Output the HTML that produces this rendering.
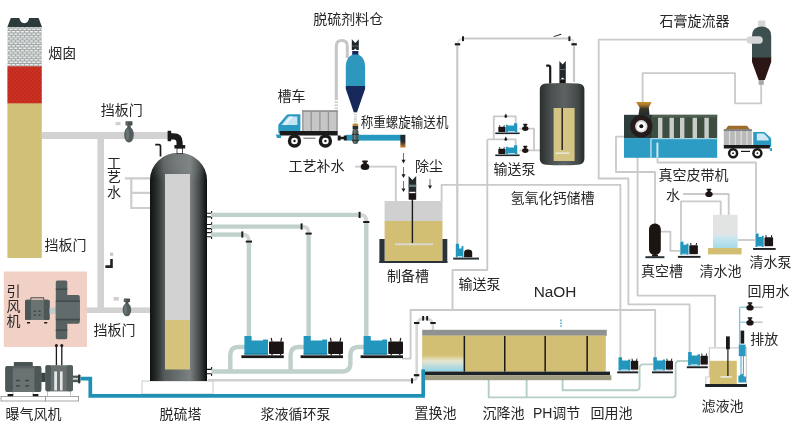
<!DOCTYPE html>
<html lang="zh">
<head>
<meta charset="utf-8">
<title>脱硫工艺流程图</title>
<style>
html,body{margin:0;padding:0;background:#fff;}
body{width:800px;height:426px;overflow:hidden;}
svg{display:block;will-change:transform;}
text{font-family:"Liberation Sans","Noto Sans CJK SC",sans-serif;font-size:14px;fill:#262626;}
.ln{fill:none;stroke:#cacaca;stroke-width:1.85;stroke-linejoin:round;}
.gl{fill:none;stroke:#b4cec8;stroke-width:1.9;}
.gp{fill:none;stroke:#c0d0cb;stroke-width:4.4;}
.wp{fill:none;stroke:#d0d0d0;stroke-width:2.6;}
.bp{fill:none;stroke:#1f90b6;stroke-width:3.7;}
.dk{fill:#1a1a1a;}
.bl{fill:#1f93ba;}
</style>
</head>
<body>
<svg width="800" height="426" viewBox="0 0 800 426">
<defs>
<pattern id="brick" width="4.5" height="4.7" patternUnits="userSpaceOnUse">
<rect width="4.5" height="4.7" fill="#979e9d"/>
<rect x="0.5" y="0.45" width="3.4" height="1.45" fill="#f2f3f3"/>
<rect x="2.75" y="2.8" width="3.4" height="1.45" fill="#f2f3f3"/>
<rect x="-1.75" y="2.8" width="3.4" height="1.45" fill="#f2f3f3"/>
</pattern>
<pattern id="rbrick" width="4" height="4" patternUnits="userSpaceOnUse">
<rect width="4" height="4" fill="#c52a1d"/>
<rect x="0.5" y="0.5" width="1.2" height="0.9" fill="#cf4a3a"/>
<rect x="2.5" y="2.5" width="1.2" height="0.9" fill="#cf4a3a"/>
</pattern>
<linearGradient id="tower" x1="0" x2="1" y1="0" y2="0">
<stop offset="0" stop-color="#101212"/>
<stop offset="0.12" stop-color="#2a2e2e"/>
<stop offset="0.25" stop-color="#555a5a"/>
<stop offset="0.7" stop-color="#7b8080"/>
<stop offset="0.85" stop-color="#4a4f4f"/>
<stop offset="1" stop-color="#0c0e0e"/>
</linearGradient>
<radialGradient id="domeg" cx="0.5" cy="0.25" r="0.6"><stop offset="0" stop-color="#8a9090" stop-opacity="0.45"/><stop offset="1" stop-color="#8a9090" stop-opacity="0"/></radialGradient>
<linearGradient id="tank" x1="0" x2="1" y1="0" y2="0">
<stop offset="0" stop-color="#2a2e2e"/>
<stop offset="0.25" stop-color="#4a4f4f"/>
<stop offset="0.55" stop-color="#5d6262"/>
<stop offset="0.85" stop-color="#444949"/>
<stop offset="1" stop-color="#262a2a"/>
</linearGradient>
<linearGradient id="water" x1="0" x2="0" y1="0" y2="1">
<stop offset="0" stop-color="#f3f8f8"/>
<stop offset="1" stop-color="#8fd0e3"/>
</linearGradient>
<linearGradient id="water2" x1="0" x2="0" y1="0" y2="1">
<stop offset="0" stop-color="#e3e3e3"/>
<stop offset="0.6" stop-color="#e1e4e4"/>
<stop offset="0.68" stop-color="#c9e7ef"/>
<stop offset="1" stop-color="#a6d9e8"/>
</linearGradient>
<g id="valve">
<ellipse cx="0" cy="0.8" rx="4.3" ry="3.3" fill="#1c1413"/>
<rect x="-1.7" y="-4.4" width="3.4" height="2.8" fill="#1c1413"/>
<rect x="-2.8" y="-5.6" width="5.6" height="1.8" rx="0.5" fill="#1c1413"/>
</g>
<g id="damper">
<rect x="-3.5" y="-13.6" width="7" height="4.2" rx="0.6" fill="#4a5252"/>
<rect x="-2.6" y="-13" width="1.1" height="3.4" fill="#6d7777"/>
<rect x="-1.7" y="-9.6" width="3.4" height="3.4" fill="#4a5252"/>
<ellipse cx="0" cy="0" rx="4.8" ry="7.8" fill="#535d5d"/>
<ellipse cx="-1.5" cy="-0.4" rx="1.6" ry="5.6" fill="#6a7474"/>
</g>
<g id="bigpump">
<rect x="-3" y="19.3" width="42.4" height="2.8" fill="#1a1a1a"/>
<path d="M0 0.6 Q0 0 0.6 0 H6.6 Q7.2 0 7.2 0.8 V4.5 H18.6 V3.9 Q18.6 3.4 19.2 3.4 H23 Q23.6 3.4 23.6 4 V18.6 H0 Z" fill="#2296bd"/>
<rect x="0" y="17.2" width="23.6" height="1.4" fill="#1a7fa2"/>
<rect x="24.6" y="5.4" width="14.8" height="12.6" rx="1" fill="#1b1414"/>
<path d="M27.6 5.6 L26.8 1.8 M36.4 5.6 L37.2 1.8" stroke="#1b1414" stroke-width="1.1"/>
<rect x="27" y="18" width="1.2" height="1.4" fill="#1b1414"/><rect x="35.6" y="18" width="1.2" height="1.4" fill="#1b1414"/>
</g>
<g id="smpump">
<rect x="-1.3" y="14.2" width="21" height="1.9" fill="#1d2226"/>
<path d="M0 0.4 Q0 0 0.4 0 H3.2 Q3.6 0 3.6 0.5 V3.4 H9.4 V2.7 Q9.4 2.2 9.9 2.2 H11.4 Q11.9 2.2 11.9 2.7 V13.3 H0 Z" fill="#2296bd"/>
<rect x="2.6" y="12.3" width="7" height="1" fill="#d6eef5"/>
<rect x="12.4" y="3.6" width="7.3" height="9" rx="0.8" fill="#1d1515"/>
<path d="M14 3.8 L13.5 1.4 M18 3.8 L18.5 1.4" stroke="#1d1515" stroke-width="0.9" fill="none"/>
<rect x="13.4" y="12.6" width="5.4" height="0.9" fill="#d6d6d6"/>
</g>
<g id="smpumpL">
<rect x="-3" y="9.3" width="24.3" height="1.6" fill="#1d2226"/>
<rect x="0" y="3.5" width="7.2" height="5.4" rx="0.8" fill="#1d1515"/>
<path d="M1.6 3.6 L1.2 2 M5.6 3.6 L6 2" stroke="#1d1515" stroke-width="0.9" fill="none"/>
<path d="M7.6 2 Q7.6 1.6 8 1.6 H9.3 Q9.7 1.6 9.7 2 V2.4 H15.7 V0.4 Q15.7 0 16.1 0 H18.6 Q19 0 19 0.4 V9.1 H7.6 Z" fill="#2296bd"/>
<rect x="9.6" y="8" width="7" height="0.9" fill="#d6eef5"/>
</g>
<g id="smpump2">
<rect x="-2.4" y="14.5" width="22.6" height="1.9" fill="#1d2226"/>
<path d="M0 0.4 Q0 0 0.4 0 H2.8 Q3.2 0 3.2 0.5 V3.4 H6.2 V2.7 Q6.2 2.2 6.7 2.2 H7.7 Q8.2 2.2 8.2 2.7 V13.4 H0 Z" fill="#2296bd"/>
<rect x="1.6" y="12.4" width="5" height="0.9" fill="#d6eef5"/>
<rect x="9" y="3.8" width="8.6" height="9" rx="0.8" fill="#1d1515"/>
<path d="M10.8 4 L10.3 1.6 M15.8 4 L16.3 1.6" stroke="#1d1515" stroke-width="1" fill="none"/>
<rect x="10" y="12.8" width="6.6" height="0.9" fill="#d6d6d6"/>
</g>
<g id="arrow">
<path d="M0 0 L0 5.5" stroke="#222" stroke-width="0.8" fill="none"/>
<path d="M-1.6 4.2 L0 7.4 L1.6 4.2 Z" fill="#222"/>
</g>
</defs>

<!-- ===== grey thin lines (piping) ===== -->
<g id="lines">
<!-- L1 process make-up water -->
<path class="ln" d="M355 166.6 H395.8 V201"/>
<!-- L2 prep tank -> pump A -->
<path class="ln" d="M441.6 201 V184.8 H620.4 V358"/>
<!-- L3 transfer pump -> Ca(OH)2 tank -->
<path d="M457.3 246 V45.5 M464 38.5 H568.6 M574 45.5 V82" fill="none" stroke="#c9c9c9" stroke-width="2.2"/>
<path d="M457.3 45.5 Q457.3 38.5 464 38.5 M568.6 38.5 Q574 38.5 574 45.5" fill="none" stroke="#e2e2e2" stroke-width="2"/>
<!-- L4 / L5 -->
<path class="ln" d="M487.3 139.4 V270 H452.5 V310"/>
<path class="ln" d="M402 358.6 H410.6 V310 H655.2 V358"/>
<!-- L6 pump loops -->
<path class="ln" d="M515.7 124 V116.4 H493.8 V139.4"/>
<path class="ln" d="M515.7 146 V139.4 H487.3"/>
<!-- L7 pump outlets -->
<path class="ln" d="M519.4 128.6 H534 V150.4 M519.4 150.4 H541"/>
<!-- L8 cyclone line A -->
<path class="ln" d="M748 39.6 H598.7 V178.5 H628.4 V304.4 H689.6 V353"/>
<!-- L9 line D -->
<path class="ln" d="M624 136.6 H616 V172 H655 V224"/>
<!-- L10 line E -->
<path class="ln" d="M637.6 157 V295.6 H715 V347"/>
<!-- L11 cyclone underflow -->
<path class="ln" d="M642.6 103 V73.1 H735 V103.4 H761.2 V84"/>
<!-- L12 -->
<path class="ln" d="M657.5 158 V162.5 H756 V233"/>
<!-- L13 water -->
<path class="ln" d="M683 194 H728.7 V215"/>
<!-- L14 -->
<path class="ln" d="M681 241 V201.4 H720.7 V215"/>
<!-- L15 -->
<path class="ln" d="M660 231.6 H670.4 V250.8 H680"/>
<!-- L16 -->
<path class="ln" d="M737.6 240 H755"/>
<!-- green thin lines below pool -->
<path class="gl" d="M488.7 378 V397.4 H672 Q675.6 397.4 675.6 394 V364.6 Q675.6 361 679 361 H688.5 M526.6 378 V397.4"/>
<path class="gl" d="M562.6 378 V390.3 H636 Q639.6 390.3 639.6 387 V368 Q639.6 364.4 643 364.4 H653"/>
</g>

<!-- ===== chimney ===== -->
<g id="chimney">
<rect x="7.4" y="103" width="34.4" height="155" fill="#d1c078"/>
<rect x="7.4" y="66" width="34.4" height="37.3" fill="url(#rbrick)"/>
<rect x="7.4" y="26.5" width="34.4" height="39.8" fill="url(#brick)"/>
<path d="M7.4 27 L10.8 18 H19.4 Q20.4 23.2 24.3 23.2 Q28.2 23.2 29.1 18 H38.6 L42 27 Z" fill="#2d3b3b"/>
</g>

<!-- ===== ducts ===== -->
<g id="ducts" fill="#d2d2d2">
<rect x="42" y="132" width="127" height="7"/>
<rect x="97.4" y="132" width="6.6" height="181"/>
<rect x="80" y="307.4" width="70" height="5.6"/>
</g>

<!-- ===== process water lines near tower ===== -->
<g fill="none" stroke="#cdcdcd" stroke-width="2.2">
<path d="M125 178.4 H151 M131.3 178.4 V208 H151 M131.3 192.8 H151"/>
</g>
<rect x="115.6" y="122" width="4.8" height="3.2" fill="#cfcfcf"/>
<use href="#damper" x="129" y="134.8"/>
<rect x="113.6" y="297" width="5.2" height="3.6" fill="#cfcfcf"/>
<use href="#damper" transform="translate(126.9 309.8) scale(0.9 0.84)"/>
<!-- small dark hook on vertical duct -->
<rect x="110" y="252.6" width="3.2" height="3.2" fill="#c4c4c4"/>
<path d="M111.5 259 V266.6 H105.4" fill="none" stroke="#222" stroke-width="2.6"/>

<!-- ===== tower ===== -->
<g id="towerg">
<rect x="142" y="381" width="71" height="13" fill="#fff" stroke="#c9c9c9" stroke-width="1"/>
<path d="M150 381 V180 A28.5 27.2 0 0 1 207 180 V381 Z" fill="url(#tower)"/>
<path d="M150 190 V180 A28.5 27.2 0 0 1 207 180 V190 Z" fill="url(#domeg)"/>
<rect x="165" y="174" width="25" height="148" fill="#d2d2d2"/>
<rect x="165" y="320" width="25" height="49.5" fill="#d5c37c"/>
<!-- elbow on top -->
<rect x="177" y="148" width="5.6" height="5.6" fill="#fff" stroke="#2a2a2a" stroke-width="0.8"/>
<path d="M170 136.3 H173.6 Q179.6 136.3 179.6 142.4 V146" fill="none" stroke="#1a1a1a" stroke-width="6.2"/>
<rect x="167.6" y="130.8" width="3.6" height="10.4" rx="0.6" fill="#1a1a1a"/>
<rect x="174.4" y="145" width="10.8" height="3.6" rx="0.6" fill="#1a1a1a"/>
<path d="M155.2 144.6 H158.8 Q160.5 144.6 160.5 146.4 V156.4" fill="none" stroke="#1a1a1a" stroke-width="1.7"/>
<!-- nozzles on right side -->
<g stroke="#1a1a1a" stroke-width="1.1" fill="none">
<path d="M207 213.2 H211.6 V211"/><path d="M207 216.9 H211.6 V219"/>
<path d="M207 224.5 H211.6 V222.3"/><path d="M207 228.6 H211.6 V230.4"/>
<path d="M207 232.6 H211.6 V231"/><path d="M207 236.8 H211.6 V239"/>
<path d="M207 369.4 H211.6 V367"/><path d="M207 373.7 H211.6 V376"/>
</g>
</g>

<!-- ===== ID fan (pink box) ===== -->
<g id="idfan">
<rect x="3.8" y="271.5" width="83.2" height="75.4" fill="#f1d0c5"/>
<!-- motor -->
<path d="M30.8 300 V297.8 H43.8 V300" fill="none" stroke="#2e3636" stroke-width="0.9"/>
<rect x="25" y="299.7" width="24.6" height="20.4" rx="1.6" fill="#6a7272"/>
<rect x="25" y="299.7" width="6" height="20.4" rx="1.6" fill="#4e5757"/>
<rect x="43.8" y="299.7" width="5.8" height="20.4" rx="1.6" fill="#4e5757"/>
<g fill="#3a4343"><rect x="33.6" y="310.6" width="2.2" height="1.4"/><rect x="38.4" y="310.6" width="2.2" height="1.4"/><rect x="33.6" y="314.4" width="2.2" height="1.4"/><rect x="38.4" y="314.4" width="2.2" height="1.4"/></g>
<rect x="27" y="322" width="3" height="1.5" fill="#1a1a1a"/><rect x="44.2" y="322" width="3" height="1.5" fill="#1a1a1a"/>
<rect x="49.6" y="307.6" width="6.4" height="6.2" fill="#c4caca"/>
<!-- housing -->
<path d="M55.8 282 Q55.8 280.5 57.4 280.5 H65.8 Q67.3 280.5 67.3 282 V295 H78 Q79.8 295 79.8 297 V322 Q79.8 323.8 78 323.8 H67.3 V337.6 Q67.3 339.2 65.8 339.2 H57.4 Q55.8 339.2 55.8 337.6 Z" fill="#586161"/>
<rect x="55.8" y="302" width="24" height="16.6" fill="#626b6b"/>
<g fill="#414a4a">
<rect x="55.8" y="288.4" width="11.5" height="1.6"/><rect x="55.8" y="300.4" width="24" height="1.5"/>
<rect x="55.8" y="318.8" width="24" height="1.5"/><rect x="55.8" y="329.4" width="11.5" height="1.6"/>
</g>
</g>
<!-- thin connectors fan to blower -->
<g fill="none" stroke="#1a1a1a" stroke-width="1.3">
<path d="M56.4 345.6 V365.4 M61.8 345.6 V365.4"/>
</g>
<circle cx="56.4" cy="345.6" r="1.5" fill="#1a1a1a"/><circle cx="61.8" cy="345.6" r="1.5" fill="#1a1a1a"/>
<!-- ===== aeration fan ===== -->
<g id="aerfan">
<rect x="1" y="396.4" width="44.6" height="4.6" fill="#fff" stroke="#8f8f8f" stroke-width="0.8"/>
<rect x="45.6" y="396.4" width="33" height="4.6" fill="#fff" stroke="#8f8f8f" stroke-width="0.8"/>
<rect x="13" y="391.6" width="20" height="4.8" fill="#fff" stroke="#a8a8a8" stroke-width="0.7"/>
<rect x="47.6" y="391" width="23" height="5.4" fill="#fff" stroke="#a8a8a8" stroke-width="0.7"/>
<rect x="7.6" y="394" width="5.6" height="2.2" fill="#1a1a1a"/><rect x="32.8" y="394" width="5.6" height="2.2" fill="#1a1a1a"/>
<rect x="13.8" y="362" width="19" height="5" rx="0.8" fill="#4a5353"/>
<rect x="5.3" y="366" width="36" height="26" rx="2" fill="#6a7272"/>
<rect x="5.3" y="366" width="7.6" height="26" rx="2" fill="#4e5757"/>
<rect x="34.4" y="366" width="6.9" height="26" rx="2" fill="#4e5757"/>
<rect x="12.9" y="366" width="21.5" height="2.4" fill="#596262"/>
<g fill="#3a4343"><rect x="16" y="379.8" width="3.8" height="1.4"/><rect x="25.2" y="379.8" width="3.8" height="1.4"/><rect x="16" y="385.2" width="3.8" height="1.4"/><rect x="25.2" y="385.2" width="3.8" height="1.4"/></g>
<rect x="41.2" y="372.8" width="4.6" height="9.2" fill="#3a4343"/>
<rect x="45.5" y="365.2" width="27.4" height="26" rx="1.6" fill="#687070"/>
<rect x="45.5" y="365.2" width="5.4" height="26" rx="1.6" fill="#4e5757"/>
<rect x="66.6" y="365.2" width="6.3" height="26" rx="1.6" fill="#565f5f"/>
<rect x="54.2" y="371.4" width="2.8" height="19" fill="#e4e8e6"/><rect x="60" y="371.4" width="2.6" height="19" fill="#e4e8e6"/>
<rect x="72.9" y="375.6" width="6" height="6.6" fill="#4e5757"/>
<rect x="72.9" y="377.8" width="6" height="2" fill="#c9cfcf"/>
<rect x="78" y="374.4" width="2.4" height="9" rx="0.8" fill="#2e3636"/>
</g>
<!-- ===== blue air pipe ===== -->
<path class="bp" d="M80.4 378.6 H90.3 V395.9 H424.9"/>

<!-- ===== slurry circulation piping ===== -->
<g id="slurry">
<!-- header & inlets -->
<path class="gp" d="M211.5 371.5 H342 Q350.4 371.5 350.4 363 V355 Q350.4 347 358.4 347 H365"/>
<path class="gp" d="M230.3 371.5 V355 Q230.3 347 238.3 347 H246"/>
<path class="gp" d="M290.6 371.5 V355 Q290.6 347 298.6 347 H306"/>
<!-- white pipe -->
<path class="wp" d="M208 380.2 H411.4"/>
<!-- outlets up -->
<path class="gp" d="M248.9 337 V242.6" stroke-width="3.6"/>
<path class="gp" d="M308.6 337 V234.6" stroke-width="3.6"/>
<path class="gp" d="M366.3 337 V223" stroke-width="3.6"/>
<!-- horizontals to tower -->
<path class="gp" d="M211 234.6 H241.6" stroke-width="3.6"/>
<path class="gp" d="M211 226.6 H301" stroke-width="3.6"/>
<path class="gp" d="M211 214.9 H359" stroke-width="3.6"/>
<!-- elbows -->
<g fill="none" stroke="#d2d6d5" stroke-width="3.6">
<path d="M243 234.6 Q248.9 234.6 248.9 241"/>
<path d="M302.4 226.6 Q308.6 226.6 308.6 233"/>
<path d="M360.6 214.9 Q366.3 214.9 366.3 221.4"/>
</g>
<g fill="#1a1a1a">
<rect x="241.3" y="231.4" width="2" height="6.2"/><rect x="245.8" y="240.6" width="6.2" height="2"/>
<rect x="300.6" y="223.4" width="2" height="6.2"/><rect x="305.5" y="232.6" width="6.2" height="2"/>
<rect x="358.6" y="211.8" width="2" height="6.2"/><rect x="363.2" y="221" width="6.2" height="2"/>
</g>
<use href="#bigpump" x="244.4" y="336"/>
<use href="#bigpump" x="303.6" y="336"/>
<use href="#bigpump" x="363.6" y="336"/>
</g>

<!-- ===== silo, truck, screw conveyor ===== -->
<g id="silo">
<path d="M336.3 124 V46.4 Q336.3 40.6 341.8 40.6 Q347.3 40.6 347.3 46.4 V58" fill="none" stroke="#c6c6c6" stroke-width="3"/>
<path d="M336.3 100 V124" fill="none" stroke="#fff" stroke-width="3.2" stroke-dasharray="1.4 1.6"/>
<!-- top motor -->
<path d="M351.8 39.2 L355.3 43 L358.8 39.2 V50 H351.8 Z" fill="#20282a"/>
<rect x="351.8" y="45.6" width="7" height="0.9" fill="#5c6a6a"/>
<path d="M352.6 51.4 L355.3 48.6 L358 51.4 Z" fill="#fff"/>
<rect x="352.2" y="51" width="6.2" height="4" fill="#16295a"/>
<!-- body -->
<path d="M345.8 66 Q345.8 58 352.4 54.4 H358.4 Q365.1 58 365.1 66 V86.4 H345.8 Z" fill="#2d97bd"/>
<path d="M345.8 86 H365.1 V89 L357 112.2 H353.8 L345.8 89 Z" fill="#16295a"/>
<path d="M355.4 112 V124" fill="none" stroke="#b0b0b0" stroke-width="3" stroke-dasharray="0.8 1.4"/>
<rect x="352.6" y="123.8" width="5.6" height="2" fill="#d58a2c"/>
<rect x="352.6" y="125.8" width="5.6" height="3.6" fill="#2a3030"/>
</g>
<g id="conveyor">
<rect x="346" y="134.8" width="55" height="5.8" fill="#2697bf"/>
<path d="M337.7 135.5 H340.6 V136.8 H343.8 V135.5 H346.7 V140.6 H343.8 V139.3 H340.6 V140.6 H337.7 Z" fill="#1a1a1a"/>
<rect x="352.4" y="129" width="6" height="15" rx="2.4" fill="#4a5757"/>
<rect x="354" y="130" width="1.6" height="13" fill="#6d7b7b"/>
<rect x="351.8" y="133.8" width="7.2" height="1.1" fill="#2a3333"/><rect x="351.8" y="139.8" width="7.2" height="1.1" fill="#2a3333"/>
<linearGradient id="og" x1="0" x2="0" y1="0" y2="1"><stop offset="0" stop-color="#20262a"/><stop offset="0.55" stop-color="#2a2c2c"/><stop offset="1" stop-color="#d98a2a"/></linearGradient>
<rect x="400.4" y="134.8" width="5" height="12.8" fill="url(#og)"/>
</g>
<g id="truck1">
<rect x="302.2" y="110.3" width="35.5" height="21" fill="#c6c6c6"/>
<rect x="302.2" y="110.3" width="35.5" height="1.6" fill="#8f8f8f"/>
<path d="M302.9 110.3 V131 M311.2 111.6 V131 M319.9 111.6 V131 M328.4 111.6 V131 M337 110.3 V131" stroke="#969696" stroke-width="1.3" fill="none"/>
<path d="M278.3 133 V125.4 Q278.3 124.6 278.9 124 L286.6 115 Q287.3 114.2 288.4 114.2 H300.4 V133 Z" fill="#2a9ac2"/>
<path d="M281.4 125 L288.4 116.6 H297.4 V125 Z" fill="#c4e5f4"/>
<path d="M283 125 L290 116.6 H293 L286 125 Z" fill="#e4f3fa"/>
<path d="M275.8 134.4 H281 V138 H277 Z" fill="#2a9ac2"/>
<path d="M280 131 H337.7 V135.6 H281 L279.4 134 Z" fill="#1a1a1a"/>
<circle cx="294.5" cy="141" r="6.7" fill="#1a1a1a"/><circle cx="294.5" cy="141" r="3.3" fill="#fff"/><circle cx="294.5" cy="141" r="1.2" fill="#1a1a1a"/>
<circle cx="325.4" cy="141" r="6.7" fill="#1a1a1a"/><circle cx="325.4" cy="141" r="3.3" fill="#fff"/><circle cx="325.4" cy="141" r="1.2" fill="#1a1a1a"/>
<rect x="303.4" y="137.6" width="12" height="1.4" fill="#8a8a8a"/>
</g>
<!-- arrows -->
<g stroke="#333" stroke-width="0.7" fill="none">
<path d="M403.5 153 V160 M403.5 167 V174.6 M403.5 181 V188.6 M430 179 V186"/>
</g>
<g fill="#1a1a1a">
<path d="M401.5 159.8 H405.5 L403.5 163.4 Z"/><path d="M401.5 174.3 H405.5 L403.5 177.9 Z"/>
<path d="M401.5 188.4 H405.5 L403.5 192 Z"/><path d="M428 185.4 H432 L430 189 Z"/>
</g>

<!-- ===== prep tank ===== -->
<g id="preptank">
<rect x="384.6" y="201" width="57.9" height="20.4" fill="#d0d0d0"/>
<rect x="384.6" y="221" width="57.9" height="41" fill="#d3bf73"/>
<rect x="379.4" y="239" width="5.2" height="24" fill="#2a3338"/>
<rect x="442.5" y="239" width="4.8" height="24" fill="#2a3338"/>
<rect x="379.4" y="261" width="67.9" height="2" fill="#2a3338"/>
<rect x="395" y="243.4" width="38" height="1.8" fill="#d9d9d9"/>
<path d="M412.4 199 V243" stroke="#1a1a1a" stroke-width="1.4"/>
<!-- motor -->
<path d="M408.6 176 L412.4 180 L416.2 176 V199.6 H408.6 Z" fill="#222a2c"/>
<rect x="408.6" y="184.6" width="7.6" height="2.4" fill="#5f7872"/>
<rect x="409.4" y="191.8" width="6" height="1.6" fill="#fff"/>
<rect x="409" y="193.4" width="6.8" height="6.2" fill="#1c1413"/>
</g>

<!-- ===== Ca(OH)2 storage tank ===== -->
<g id="caoh">
<path d="M546.2 65.6 H548.6 Q550.2 65.6 550.2 67.4 V83.6" fill="none" stroke="#1a1a1a" stroke-width="2.2"/>
<path d="M559.4 61 L562.6 64.6 L565.8 61 V83.4 H559.4 Z" fill="#20282a"/>
<rect x="559.4" y="69" width="6.4" height="1" fill="#5c6a6a"/>
<path d="M560.4 79.6 L562.6 77.4 L564.8 79.6 Z" fill="#fff"/>
<rect x="560.2" y="79.6" width="4.8" height="3.8" fill="#1a1514"/>
<path d="M539.8 89 Q539.8 84 546 83.4 Q562 82.4 578 83.4 Q584.4 84 584.4 89 V159 Q584.4 164 578 164.8 Q562 165.8 546 164.8 Q539.8 164 539.8 159 Z" fill="url(#tank)"/>
<rect x="553.6" y="108" width="21" height="53" fill="#d5c584"/>
<path d="M562.2 108 V150" stroke="#1a1a1a" stroke-width="1.4"/>
<rect x="555.4" y="152.4" width="14" height="1.6" fill="#e8e4d6"/>
</g>
<!-- small transfer pumps (left of tank) -->
<use href="#smpumpL" x="498.3" y="123.2"/>
<use href="#smpumpL" x="498.3" y="145.2"/>
<circle cx="505.8" cy="116.4" r="1.4" fill="#1a1a1a"/><rect x="505.3" y="113.8" width="1" height="2" fill="#1a1a1a"/>
<circle cx="505.8" cy="139.4" r="1.4" fill="#1a1a1a"/><rect x="505.3" y="136.8" width="1" height="2" fill="#1a1a1a"/>
<use href="#valve" transform="translate(525.3 128) scale(0.75)"/>
<use href="#valve" transform="translate(525.3 150) scale(0.75)"/>
<!-- process water valve -->
<use href="#valve" x="365" y="166"/>
<!-- transfer pump near prep tank -->
<g id="tp1">
<rect x="453.2" y="257.6" width="25.8" height="2" fill="#2a3338"/>
<path d="M455.8 244 Q455.8 243.7 456.2 243.7 H458.6 Q459 243.7 459 244.2 V248.5 H461.5 V246.4 Q461.5 246 461.9 246 H463 Q463.4 246 463.4 246.4 V257.2 H455.8 Z" fill="#2296bd"/>
<rect x="457.6" y="256" width="4.6" height="0.9" fill="#d6eef5"/>
<path d="M464.1 257.2 V252.4 Q464.1 249.5 468.1 249.5 Q472.2 249.5 472.2 252.4 V257.2 Z" fill="#1c1413"/>
</g>
<!-- L3 fittings -->
<g fill="#1a1a1a">
<rect x="454.8" y="43.2" width="5.4" height="2.2"/><rect x="462" y="36.3" width="2" height="4.8"/>
<rect x="568.4" y="36.3" width="2" height="4.8"/><rect x="571.4" y="43.2" width="5.4" height="2.2"/>
<path d="M553.6 36.2 L561 33.8 L561.3 34.7 L553.9 37.1 Z"/>
</g>

<!-- ===== riser pipe & arch into pool ===== -->
<g id="riser">
<path d="M411.4 380.2 H413 Q416.7 380.2 416.7 376.6 V327 Q416.7 318.4 424.8 318.4 Q433 318.4 433 327 V330" fill="none" stroke="#d6d6d6" stroke-width="2.6"/>
<g fill="#1a1a1a">
<rect x="414" y="322" width="5.4" height="2"/><rect x="430.3" y="322" width="5.4" height="2"/>
<rect x="422.2" y="316" width="1.9" height="4.6"/><rect x="426.2" y="316" width="1.9" height="4.6"/>
<rect x="413.9" y="374.1" width="5.4" height="2.2"/><rect x="411" y="378.2" width="2" height="5.2"/>
</g>
</g>
<!-- ===== treatment pool ===== -->
<g id="pool">
<rect x="422.2" y="329.8" width="184.6" height="6" fill="#909292"/>
<rect x="422.2" y="335.6" width="183.6" height="36" fill="#d3bf73"/>
<linearGradient id="poolw" x1="0" x2="0" y1="0" y2="1"><stop offset="0" stop-color="#d3bf73"/><stop offset="0.35" stop-color="#e6e6cf"/><stop offset="1" stop-color="#8fd3e8"/></linearGradient>
<rect x="422.2" y="355" width="41.4" height="16.6" fill="url(#poolw)"/>
<rect x="425" y="371.6" width="185" height="3.6" fill="#1d2226"/>
<rect x="425" y="375.2" width="186.4" height="5" fill="#a09c80"/>
<g fill="#1a1a1a">
<rect x="463.6" y="336" width="1.5" height="35.6"/><rect x="504" y="336" width="1.5" height="35.6"/>
<rect x="544.4" y="336" width="1.5" height="35.6"/><rect x="586.4" y="336" width="1.5" height="35.6"/>
</g>
<path d="M561 319.6 V327.4" stroke="#3aa6c8" stroke-width="1.4" stroke-dasharray="1.6 1.2" fill="none"/>
</g>
<!-- blue pipe rising on top of pool corner -->
<path d="M423.2 395.9 V369.4" class="bp" stroke-width="3.6"/>
<!-- pumps A B C -->
<use href="#smpump" x="618.5" y="357.2"/>
<use href="#smpump" x="653.3" y="357.2"/>
<use href="#smpump" x="688.1" y="352.1"/>

<!-- ===== filtrate tank ===== -->
<g id="filt">
<path d="M709.4 377 V347.8 H746.4 V385 M709.4 377 H705.8 V385" fill="#fff" stroke="#cfcfcf" stroke-width="1.2"/>
<rect x="709.8" y="360.8" width="27" height="23.6" fill="#d3bf73"/>
<rect x="705.2" y="384" width="41.8" height="3" fill="#1d2226"/>
<rect x="726" y="336.4" width="3.8" height="12.8" fill="#1a1a1a"/>
<path d="M727.9 349 V376" stroke="#1a1a1a" stroke-width="1.2"/>
<rect x="720.4" y="376" width="11.4" height="1.8" fill="#e8e4d6"/>
<!-- submersible pump -->
<path d="M739.6 307.3 V345" stroke="#7cc3de" stroke-width="1.3" fill="none"/>
<path d="M739.6 307.3 H747 M739.6 322.3 H747" stroke="#9fcfe0" stroke-width="1.4" fill="none"/>
<path d="M753 307.3 H762.6 M753 322.3 H762.6" stroke="#c4c4c4" stroke-width="1.4" fill="none"/>
<rect x="740.6" y="330.6" width="3.6" height="13" fill="#1a1a1a"/>
<rect x="738.8" y="344.6" width="6.8" height="11.6" fill="#2a9ac2"/>
<path d="M741 356 V375 M743.4 356 V375" stroke="#2a9ac2" stroke-width="0.9" fill="none"/>
<path d="M738.4 382.6 V375.6 H740 L741 374 H743 L744 376.6 H746 V382.6 Z" fill="#2a9ac2"/>
<use href="#valve" transform="translate(750 307) scale(0.85)"/>
<use href="#valve" transform="translate(750 322) scale(0.85)"/>
</g>

<!-- ===== vacuum belt filter ===== -->
<g id="belt">
<linearGradient id="hop" x1="0" x2="0" y1="0" y2="1"><stop offset="0" stop-color="#c98f2e"/><stop offset="0.22" stop-color="#a8772a"/><stop offset="0.5" stop-color="#3a3428"/><stop offset="1" stop-color="#20282a"/></linearGradient>
<path d="M636 102 H651.6 L648.8 107.4 L649.6 115.4 H638.4 L639.6 107.4 Z" fill="url(#hop)"/>
<rect x="624" y="114.8" width="27" height="23.6" fill="#2c3d3c"/>
<rect x="651.6" y="114.8" width="65.6" height="23.6" fill="#3d4e40"/>
<rect x="651.6" y="114.8" width="65.6" height="2.6" fill="#4f5f52"/>
<rect x="650.4" y="114.8" width="1.4" height="23.6" fill="#1f2a2a"/>
<g fill="#c9cdc9">
<rect x="658" y="117.8" width="4.4" height="20.6"/><rect x="669.5" y="117.8" width="4.4" height="20.6"/>
<rect x="680" y="117.8" width="4.4" height="20.6"/><rect x="692.6" y="117.8" width="4.4" height="20.6"/>
<rect x="704.4" y="117.8" width="4.4" height="20.6"/>
</g>
<rect x="624" y="138.2" width="93.2" height="19.6" fill="#2d9cc4"/>
<rect x="650.4" y="138.2" width="1.1" height="19.6" fill="#dff1f7"/>
<rect x="651.5" y="138.2" width="65.7" height="1" fill="#bfe3ef"/>
<rect x="656.4" y="142.6" width="2" height="15.2" fill="#cfe6ee"/>
<circle cx="641.3" cy="126.3" r="11.2" fill="#241b1a"/>
<circle cx="641.3" cy="126.3" r="6.2" fill="#d9d9d9"/>
<circle cx="641.3" cy="126.3" r="4.4" fill="#fff"/>
<circle cx="641.3" cy="126.3" r="2" fill="#111"/>
</g>
<!-- ===== gypsum truck ===== -->
<g id="truck2">
<path d="M725.4 129.4 L728.2 125.8 H747 L750 129.4 Z" fill="#a06a28"/>
<rect x="723.8" y="129.2" width="28" height="16" fill="#b9b9b9"/>
<rect x="723.8" y="129.2" width="28" height="1.8" fill="#7f7f7f"/>
<path d="M729.6 131 V145 M735.4 131 V145 M741.2 131 V145 M747 131 V145" stroke="#dcdcdc" stroke-width="1.3" fill="none"/>
<path d="M753.2 147 V132 H764.4 L770.4 137.6 Q771.2 138.4 771.2 139.4 V147 Z" fill="#2a9ac2"/>
<path d="M756.8 133.6 H763.8 L768.6 138.4 V140.6 H756.8 Z" fill="#cfe8f4"/>
<rect x="723.8" y="145" width="46" height="3.5" fill="#1a1a1a"/>
<path d="M769 148.2 H772 V151 H770.6 Z" fill="#2a9ac2"/>
<circle cx="733.1" cy="153.2" r="5.2" fill="#1a1a1a"/><circle cx="733.1" cy="153.2" r="2.7" fill="#fff"/><circle cx="733.1" cy="153.2" r="0.9" fill="#1a1a1a"/>
<circle cx="757.4" cy="153.2" r="5.2" fill="#1a1a1a"/><circle cx="757.4" cy="153.2" r="2.7" fill="#fff"/><circle cx="757.4" cy="153.2" r="0.9" fill="#1a1a1a"/>
<rect x="741" y="150.8" width="9" height="1.2" fill="#1a1a1a"/>
</g>
<!-- ===== gypsum cyclone ===== -->
<g id="cyclone">
<rect x="758" y="20.4" width="7.4" height="7" rx="1" fill="#d6d6d6"/>
<rect x="758.6" y="79.6" width="5.2" height="5.2" fill="#a8a8a8"/>
<path d="M752 36 Q752 27 761.6 26.6 Q771.2 27 771.2 36 V58 H752 Z" fill="#3e4f4f"/>
<path d="M752 57.6 H771.2 V62 L764.8 80 H758.6 L752 62 Z" fill="#2a1715"/>
<rect x="746.4" y="36.2" width="16.4" height="7.6" rx="3.8" fill="#d6d6d6"/>
</g>
<!-- ===== vacuum tank ===== -->
<g id="vactank">
<rect x="649" y="223.6" width="11.8" height="31.4" rx="5.6" fill="#1c1413"/>
<rect x="652" y="254.6" width="6" height="2" fill="#1c1413"/>
<rect x="645.4" y="256.2" width="19" height="2" fill="#2a3338"/>
</g>
<!-- small pump next to vacuum tank -->
<use href="#smpump2" x="680.3" y="241.4"/>
<!-- ===== clean water pool ===== -->
<rect x="713" y="214.8" width="24.6" height="33.4" fill="url(#water2)"/>
<rect x="708" y="248" width="33.6" height="6.4" fill="#d3bf73"/>
<!-- clean water pump -->
<use href="#smpump2" x="755.5" y="233.5"/>
<use href="#valve" transform="translate(709 193.6) scale(0.85)"/>

<!-- ===== labels ===== -->
<g id="labels">
<text x="48.2" y="58.0">烟囱</text>
<text x="100.8" y="115.0">挡板门</text>
<text x="44.5" y="249.5">挡板门</text>
<text x="93.5" y="334.6">挡板门</text>
<text x="5.5" y="419.0">曝气风机</text>
<text x="159.5" y="419.0">脱硫塔</text>
<text x="260.5" y="419.0">浆液循环泵</text>
<text x="313.2" y="23.8">脱硫剂料仓</text>
<text x="277.5" y="101.0">槽车</text>
<text x="360.8" y="126.8" textLength="87.6" lengthAdjust="spacingAndGlyphs">称重螺旋输送机</text>
<text x="288.5" y="171.0">工艺补水</text>
<text x="414.9" y="171.0">除尘</text>
<text x="387.0" y="281.0">制备槽</text>
<text x="458.5" y="289.0">输送泵</text>
<text x="493.5" y="174.0">输送泵</text>
<text x="510.5" y="203.0">氢氧化钙储槽</text>
<text x="533.7" y="296.8" style="font-size:15.4px">NaOH</text>
<text x="414.5" y="418.0">置换池</text>
<text x="482.5" y="418.0">沉降池</text>
<text x="532.9" y="418.0">PH调节</text>
<text x="590.5" y="418.0">回用池</text>
<text x="701.5" y="411.0">滤液池</text>
<text x="659.5" y="26.0">石膏旋流器</text>
<text x="658.5" y="180.0">真空皮带机</text>
<text x="666.1" y="200.0">水</text>
<text x="640.9" y="276.0">真空槽</text>
<text x="699.5" y="276.0">清水池</text>
<text x="749.5" y="267.0">清水泵</text>
<text x="747.5" y="296.0">回用水</text>
<text x="750.2" y="343.6">排放</text>
<text x="114.0" y="168.0" text-anchor="middle">工</text>
<text x="114.0" y="182.0" text-anchor="middle">艺</text>
<text x="114.0" y="197.0" text-anchor="middle">水</text>
<text x="13.6" y="296" text-anchor="middle">引</text>
<text x="13.6" y="311.3" text-anchor="middle">风</text>
<text x="13.6" y="326" text-anchor="middle">机</text>
</g>
</svg>
</body>
</html>
